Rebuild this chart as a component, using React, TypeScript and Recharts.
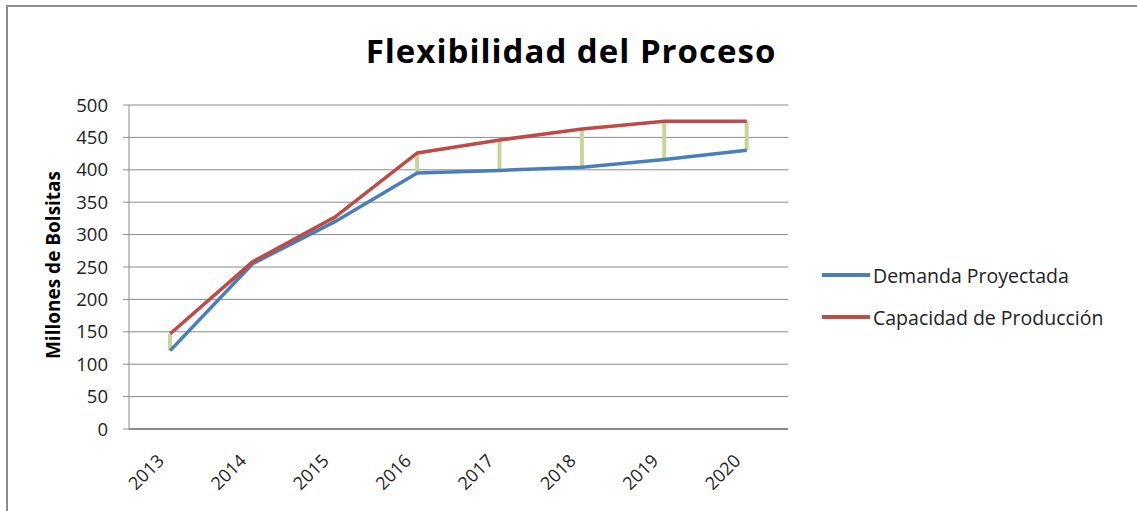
import {
  ComposedChart,
  Line,
  Bar,
  XAxis,
  YAxis,
  CartesianGrid,
} from "recharts";

// Data
const years = ["2013", "2014", "2015", "2016", "2017", "2018", "2019", "2020"];
const demanda = [121, 255, 320, 395, 399, 404, 416, 430];
const capacidad = [147, 258, 327, 426, 446, 463, 475, 475];
const yTicks = [0, 50, 100, 150, 200, 250, 300, 350, 400, 450, 500];

const data = years.map((year, i) => ({
  year,
  demanda: demanda[i],
  capacidad: capacidad[i],
  gap: [demanda[i], capacidad[i]],
}));

const FONT = "'Open Sans', Lato, sans-serif";

const legendItems = [
  { label: "Demanda Proyectada", color: "#4a7ebb" },
  { label: "Capacidad de Producción", color: "#be4b48" },
];

function YearTick(props: any) {
  const { x, payload } = props;
  // anchor the end of each label just below-left of its category
  return (
    <text
      x={0}
      y={0}
      textAnchor="end"
      transform={`translate(${x - 5},${462}) rotate(-45)`}
      fill="#222"
      fontSize={18}
      fontFamily={FONT}
    >
      {payload.value}
    </text>
  );
}

function LegendBox() {
  return (
    <div
      style={{
        position: "absolute",
        left: 822,
        top: 254,
        fontFamily: FONT,
        fontSize: 19.5,
        color: "#222",
      }}
    >
      {legendItems.map((it) => (
        <div
          key={it.label}
          style={{ display: "flex", alignItems: "center", height: 42 }}
        >
          <span
            style={{
              display: "inline-block",
              width: 48,
              height: 4,
              background: it.color,
              marginRight: 3,
            }}
          />
          {it.label}
        </div>
      ))}
    </div>
  );
}

export default function App() {
  return (
    <div
      style={{
        position: "absolute",
        left: 0,
        top: 0,
        width: 1137,
        height: 511,
        background: "#fff",
      }}
    >
      <div
        style={{
          position: "absolute",
          left: 6,
          top: 5,
          right: 0,
          bottom: 0,
          borderTop: "2px solid #8c8c8c",
          borderLeft: "2px solid #8c8c8c",
        }}
      />
      <ComposedChart
        width={1137}
        height={511}
        data={data}
        margin={{ top: 105, right: 349, bottom: 0, left: 69 }}
      >
        <CartesianGrid vertical={false} stroke="#8a8a8a" />
        <XAxis
          dataKey="year"
          axisLine={{ stroke: "#8a8a8a", strokeWidth: 2 }}
          tickLine={false}
          tick={<YearTick />}
          interval={0}
          height={82}
        />
        <YAxis
          domain={[0, 500]}
          ticks={yTicks}
          interval={0}
          width={60}
          axisLine={{ stroke: "#8a8a8a" }}
          tickLine={{ stroke: "#8a8a8a" }}
          tickSize={6}
          tickMargin={15}
          tick={{ fill: "#222", fontSize: 18.5, fontFamily: FONT }}
        />
        <Line
          type="linear"
          dataKey="demanda"
          stroke="#4a7ebb"
          strokeWidth={3.5}
          dot={false}
          isAnimationActive={false}
        />
        <Line
          type="linear"
          dataKey="capacidad"
          stroke="#be4b48"
          strokeWidth={3.5}
          dot={false}
          isAnimationActive={false}
        />
        <Bar
          dataKey="gap"
          fill="#c3d69b"
          barSize={4}
          isAnimationActive={false}
        />

        {/* Title */}
        <text
          x={571}
          y={63}
          textAnchor="middle"
          fontSize={33}
          fontWeight="bold"
          letterSpacing={1}
          fontFamily={FONT}
          fill="#000"
        >
          Flexibilidad del Proceso
        </text>

        {/* Y axis title */}
        <text
          x={0}
          y={0}
          transform="translate(60,265) rotate(-90)"
          textAnchor="middle"
          fontSize={19}
          fontWeight="bold"
          fontFamily={FONT}
          fill="#000"
        >
          Millones de Bolsitas
        </text>
      </ComposedChart>
      <LegendBox />
    </div>
  );
}
